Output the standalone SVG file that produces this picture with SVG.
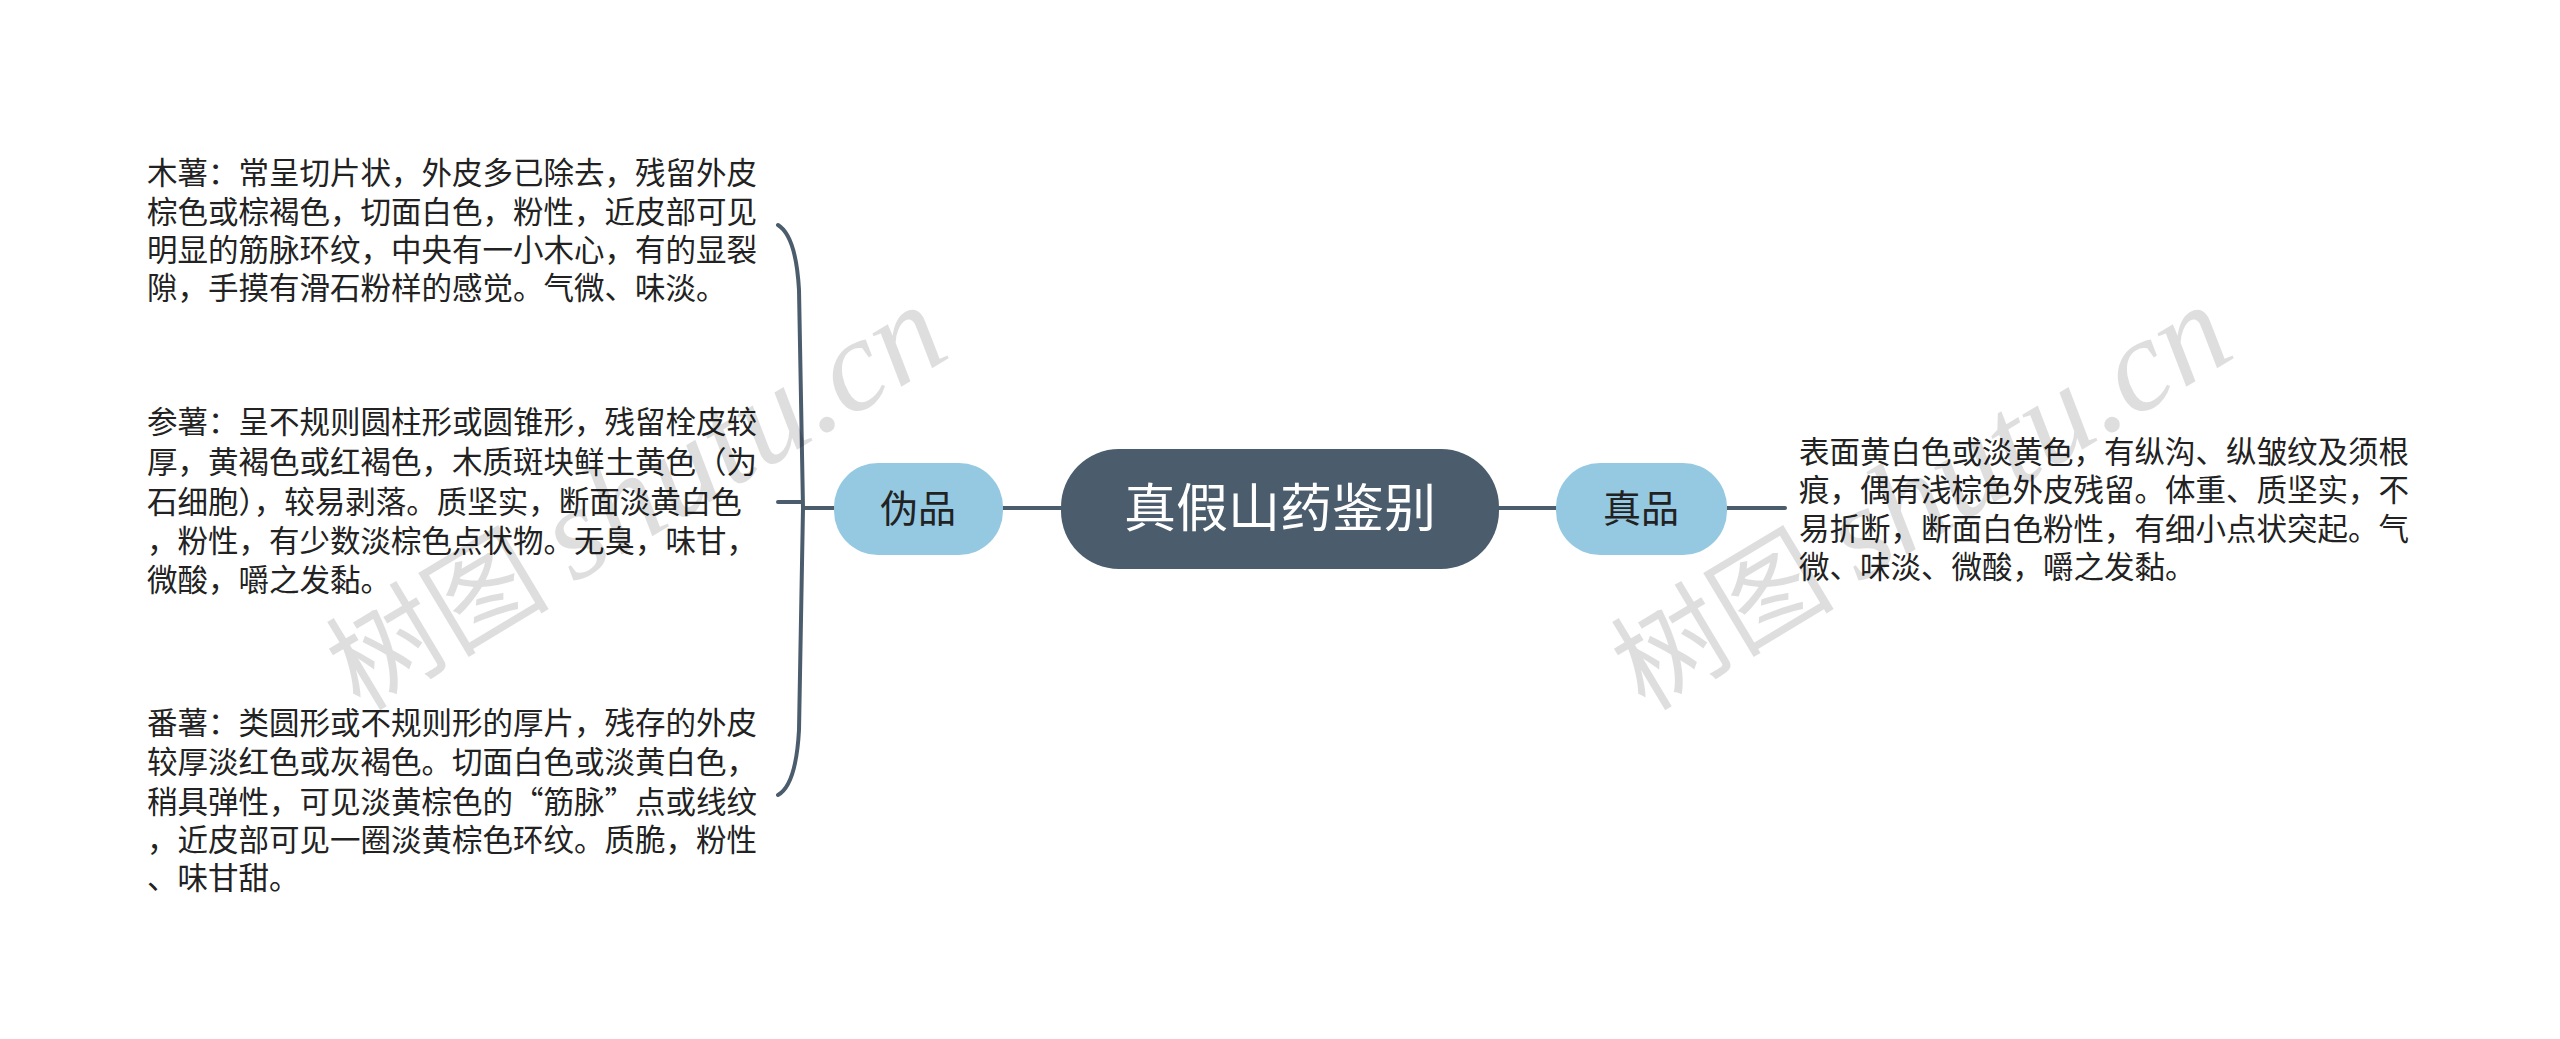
<svg xmlns="http://www.w3.org/2000/svg" width="2560" height="1039" viewBox="0 0 2560 1039">
<style>
.t{font-family:"Noto Sans CJK SC","Microsoft YaHei",sans-serif;font-size:30.5px;fill:#222}
.sub{font-family:"Noto Sans CJK SC",sans-serif;font-size:38px;fill:#222;text-anchor:middle}
.root{font-family:"Noto Sans CJK SC",sans-serif;font-size:52px;fill:#fff;text-anchor:middle}
.ln{fill:none;stroke:#4b5c6c;stroke-width:4;stroke-linecap:round}
.wm{font-family:"Noto Sans CJK SC",sans-serif;font-size:112px;fill:#000;fill-opacity:0.13}
.wm tspan{font-family:"Liberation Serif",serif;font-style:italic;font-size:132px}
</style>
<rect width="2560" height="1039" fill="#fff"/>
<g id="connectors">
<path class="ln" d="M1061,508 H1003"/>
<path class="ln" d="M1499,508 H1556"/>
<path class="ln" d="M1727,508 H1785"/>
<path class="ln" d="M834,508 H803"/>
<path class="ln" d="M803,508 L799,290 Q796,236 778,225"/>
<path class="ln" d="M802,502 H778"/>
<path class="ln" d="M803,508 L799,730 Q796,785 778,795"/>
</g>
<g id="root">
<rect x="1061" y="449" width="438" height="120" rx="58" fill="#4b5c6c"/>
<text class="root" x="1280" y="527">真假山药鉴别</text>
</g>
<g id="fake">
<rect x="834" y="463" width="169" height="92" rx="44" fill="#95c9e2"/>
<text class="sub" x="918" y="522">伪品</text>
</g>
<g id="real">
<rect x="1556" y="463" width="171" height="92" rx="44" fill="#95c9e2"/>
<text class="sub" x="1641" y="522">真品</text>
</g>
<g id="mushu">
<text class="t" x="147" y="184">木薯：常呈切片状，外皮多已除去，残留外皮</text>
<text class="t" x="147" y="223">棕色或棕褐色，切面白色，粉性，近皮部可见</text>
<text class="t" x="147" y="261">明显的筋脉环纹，中央有一小木心，有的显裂</text>
<text class="t" x="147" y="299">隙，手摸有滑石粉样的感觉。气微、味淡。</text>
</g>
<g id="shenshu">
<text class="t" x="147" y="433">参薯：呈不规则圆柱形或圆锥形，残留栓皮较</text>
<text class="t" x="147" y="473">厚，黄褐色或红褐色，木质斑块鲜土黄色（为</text>
<text class="t" x="147" y="513">石细胞），较易剥落。质坚实，断面淡黄白色</text>
<text class="t" x="147" y="552">，粉性，有少数淡棕色点状物。无臭，味甘，</text>
<text class="t" x="147" y="591">微酸，嚼之发黏。</text>
</g>
<g id="fanshu">
<text class="t" x="147" y="734">番薯：类圆形或不规则形的厚片，残存的外皮</text>
<text class="t" x="147" y="773">较厚淡红色或灰褐色。切面白色或淡黄白色，</text>
<text class="t" x="147" y="813">稍具弹性，可见淡黄棕色的“筋脉”点或线纹</text>
<text class="t" x="147" y="851">，近皮部可见一圈淡黄棕色环纹。质脆，粉性</text>
<text class="t" x="147" y="889">、味甘甜。</text>
</g>
<g id="realdesc">
<text class="t" x="1799" y="463">表面黄白色或淡黄色，有纵沟、纵皱纹及须根</text>
<text class="t" x="1799" y="501">痕，偶有浅棕色外皮残留。体重、质坚实，不</text>
<text class="t" x="1799" y="540">易折断，断面白色粉性，有细小点状突起。气</text>
<text class="t" x="1799" y="578">微、味淡、微酸，嚼之发黏。</text>
</g>
<g id="watermark">
<text class="wm" transform="translate(360,712) rotate(-31)">树图 <tspan>shutu.cn</tspan></text>
<text class="wm" transform="translate(1645,712) rotate(-31)">树图 <tspan>shutu.cn</tspan></text>
</g>
</svg>
